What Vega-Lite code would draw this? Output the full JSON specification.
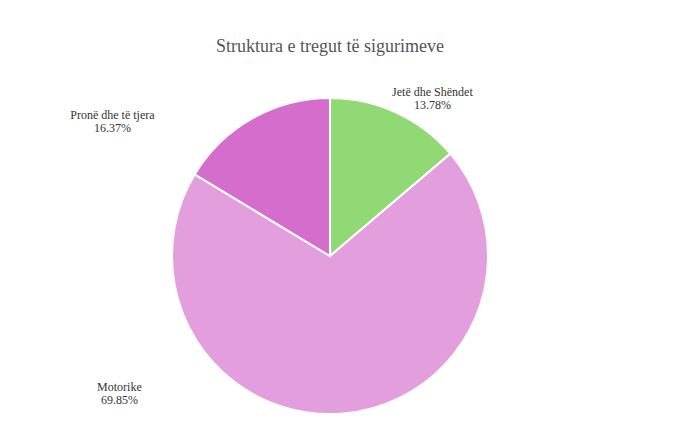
{
  "$schema": "https://vega.github.io/schema/vega-lite/v6.json",
  "autosize": "none",
  "width": 660,
  "height": 352,
  "padding": {"left": 0, "top": 80, "right": 37, "bottom": 1},
  "background": "white",
  "title": {
    "text": "Struktura e tregut të sigurimeve",
    "font": "Liberation Serif",
    "fontSize": 18,
    "fontWeight": "normal",
    "color": "#555555",
    "anchor": "middle",
    "offset": 24
  },
  "config": {"view": {"stroke": null}},
  "data": {
    "values": [
      {"cat": "Jetë dhe Shëndet", "value": 13.78},
      {"cat": "Motorike", "value": 69.85},
      {"cat": "Pronë dhe të tjera", "value": 16.37}
    ]
  },
  "transform": [
    {"calculate": "datum.cat + '\\n' + format(datum.value, '.2f') + '%'", "as": "label"}
  ],
  "encoding": {
    "theta": {"field": "value", "type": "quantitative", "stack": true},
    "color": {
      "field": "cat",
      "type": "nominal",
      "scale": {
        "domain": ["Jetë dhe Shëndet", "Motorike", "Pronë dhe të tjera"],
        "range": ["#91d975", "#e39ede", "#d56dcc"]
      },
      "legend": null
    }
  },
  "layer": [
    {"mark": {"type": "arc", "radius": 158, "stroke": "white", "strokeWidth": 2}},
    {
      "mark": {"type": "text", "radius": 175, "dx": 29, "dy": -5, "font": "Liberation Serif", "fontSize": 12, "lineBreak": "\n", "lineHeight": 13, "align": "center", "baseline": "middle"},
      "encoding": {
        "text": {"condition": {"test": "datum.cat === 'Jetë dhe Shëndet'", "field": "label"}, "value": ""},
        "color": {"value": "#333333"}
      }
    },
    {
      "mark": {"type": "text", "radius": 140, "dx": -222, "dy": -9, "font": "Liberation Serif", "fontSize": 12, "lineBreak": "\n", "lineHeight": 13, "align": "center", "baseline": "middle"},
      "encoding": {
        "text": {"condition": {"test": "datum.cat === 'Motorike'", "field": "label"}, "value": ""},
        "color": {"value": "#333333"}
      }
    },
    {
      "mark": {"type": "text", "radius": 180, "dx": -129, "dy": 16, "font": "Liberation Serif", "fontSize": 12, "lineBreak": "\n", "lineHeight": 13, "align": "center", "baseline": "middle"},
      "encoding": {
        "text": {"condition": {"test": "datum.cat === 'Pronë dhe të tjera'", "field": "label"}, "value": ""},
        "color": {"value": "#333333"}
      }
    }
  ]
}
